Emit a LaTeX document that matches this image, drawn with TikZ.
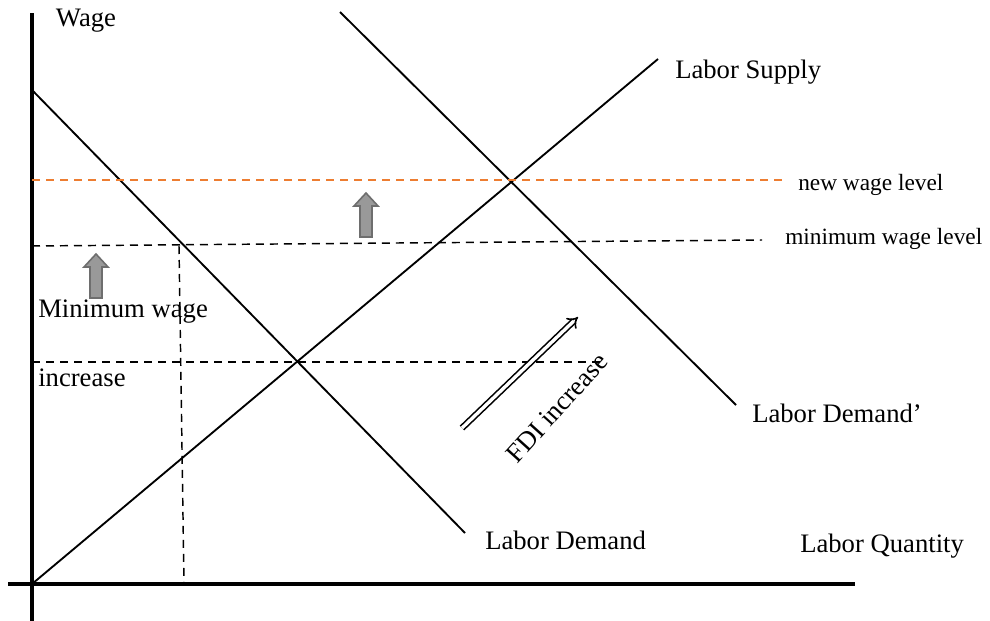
\documentclass[tikz,border=0pt]{standalone}
\usepackage{fontspec}
\setmainfont{Liberation Serif}
\usetikzlibrary{arrows.meta}
\definecolor{wageorange}{HTML}{ED7D31}
\definecolor{arrowgray}{HTML}{999999}
\definecolor{arrowborder}{HTML}{6E6E6E}
\begin{document}
\begin{tikzpicture}[x=0.75pt,y=-0.75pt,
  axis/.style={line width=3pt},
  curve/.style={line width=1.4pt},
  guide/.style={line width=1.1pt, dash pattern=on 6pt off 4.5pt},
  lbl/.style={inner sep=0pt, font=\fontsize{20}{24}\selectfont},
  smalllbl/.style={inner sep=0pt, font=\fontsize{17.5}{21}\selectfont},
  uparrow/.pic={\draw[fill=arrowgray, draw=arrowborder, line width=1.2pt]
     (-6,0) -- (-6,-31) -- (-12,-31) -- (0,-44) -- (12,-31) -- (6,-31) -- (6,0) -- cycle;}
]
\useasboundingbox (0,0) rectangle (990,621);
% axes
\coordinate (ytop) at (32,13);
\coordinate (ybot) at (32,621);
\coordinate (xl) at (8,584);
\coordinate (xr) at (855,584);
\draw[axis] (ybot) -- (ytop);
\draw[axis] (xl) -- (xr);
% curves
\coordinate (s0) at (32,584);
\coordinate (s1) at (658,59);
\coordinate (d0) at (32,90);
\coordinate (d1) at (465,533);
\coordinate (e0) at (340,12);
\coordinate (e1) at (736,405);
\draw[curve] (s0) -- (s1);
\draw[curve] (d0) -- (d1);
\draw[curve] (e0) -- (e1);
% guide lines
\coordinate (nw0) at (32,180);
\coordinate (nw1) at (785,180);
\coordinate (mw0) at (32,246);
\coordinate (mw1) at (762,240);
\coordinate (eq0) at (32,362);
\coordinate (eq1) at (600,362);
\coordinate (v0) at (179,246);
\coordinate (v1) at (184,584);
\draw[guide, draw=wageorange] (nw0) -- (nw1);
\draw[guide] (mw0) -- (mw1);
\draw[guide] (eq0) -- (eq1);
\draw[guide] (v0) -- (v1);
% gray arrows
\pic at (96,298) {uparrow};
\pic at (366,237) {uparrow};
% FDI arrow
\coordinate (f0) at (462,428);
\coordinate (f1) at (578,317);
\draw[line width=1.2pt, double, double distance=2.5pt, -{Implies[length=6pt]}] (f0) -- (f1);
\node[lbl, rotate=48] (fdi) at (557,408) {FDI increase};
% labels
\node[lbl] (wage) at (86,21) {Wage};
\node[lbl, anchor=west] (ls) at (675,72) {Labor Supply};
\node[smalllbl, anchor=west] (nwl) at (798,185) {new wage level};
\node[smalllbl, anchor=west] (mwl) at (785,239) {minimum wage level};
\node[lbl, anchor=west] (mwi) at (38,312) {Minimum wage};
\node[lbl, anchor=west] (inc) at (38,378) {increase};
\node[lbl, anchor=west] (ldp) at (752,413) {Labor Demand'};
\node[lbl, anchor=west] (ld) at (485,540) {Labor Demand};
\node[lbl, anchor=west] (lq) at (800,546) {Labor Quantity};
\end{tikzpicture}
\end{document}
